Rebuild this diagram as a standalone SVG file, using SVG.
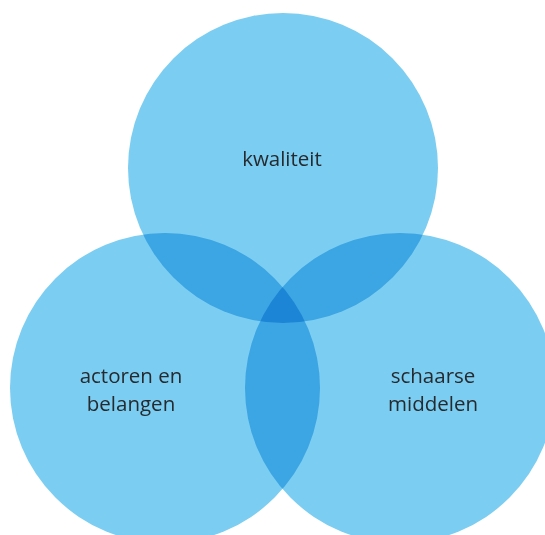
<svg xmlns="http://www.w3.org/2000/svg" width="545" height="535" viewBox="0 0 545 535">
<style>
.c{fill:#7bcdf1;mix-blend-mode:multiply}
.t{font-family:"Open Sans","Noto Sans",sans-serif;font-size:20.5px;fill:#262a2e;text-anchor:middle}
</style>
<rect width="545" height="535" fill="#ffffff"/>
<g style="isolation:isolate">
<g id="node-kwaliteit"><circle class="c" cx="283" cy="168" r="155"/></g>
<g id="node-actoren"><circle class="c" cx="165" cy="388" r="155"/></g>
<g id="node-middelen"><circle class="c" cx="400" cy="388" r="155"/></g>
</g>
<g id="connectors"/>
<g id="labels">
<text class="t" x="282" y="166">kwaliteit</text>
<text class="t" x="131" y="383">actoren en</text>
<text class="t" x="131" y="411">belangen</text>
<text class="t" x="433" y="383">schaarse</text>
<text class="t" x="433" y="411">middelen</text>
</g>
</svg>
